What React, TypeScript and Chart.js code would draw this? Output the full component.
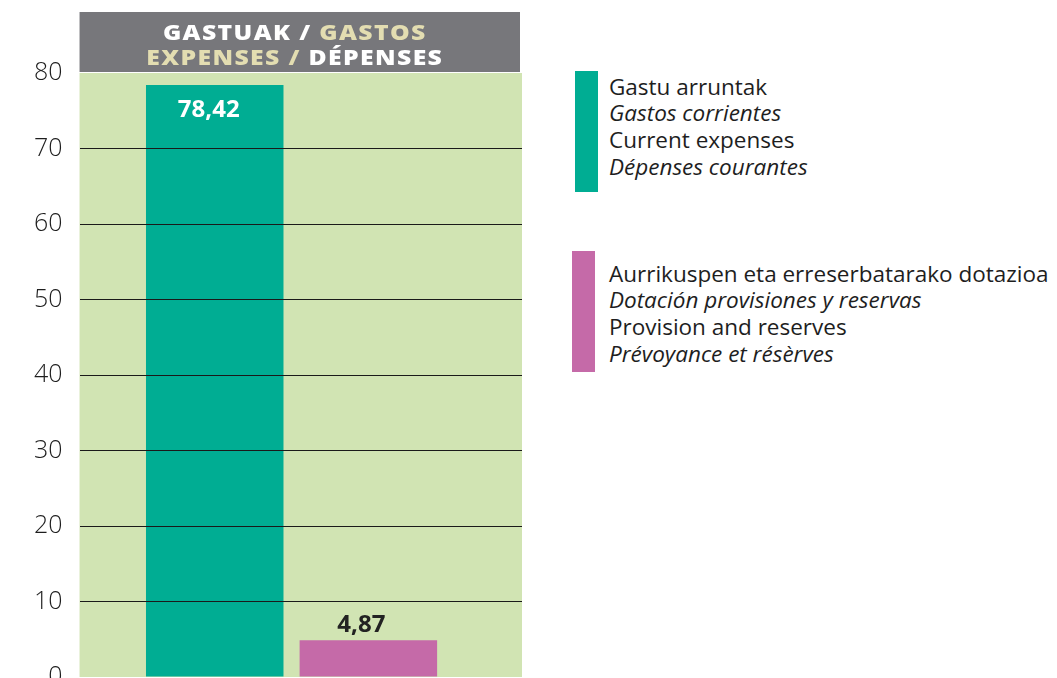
import React, { useEffect, useRef } from 'react';
import { Chart, registerables } from 'chart.js';

Chart.register(...registerables);

// ---- data ----
const categories = ['Gastu arruntak', 'Aurrikuspen eta erreserbatarako dotazioa'];
const categoryPositions = [1, 2];
const values = [78.42, 4.87];
const valueLabels = ['78,42', '4,87'];
const barColors = ['#00ad93', '#c56aa8'];
const yMin = 0;
const yMax = 80;
const yStep = 10;

const titleLine1 = [
  { text: 'GASTUAK', color: '#ffffff' },
  { text: ' / ', color: '#ffffff' },
  { text: 'GASTOS', color: '#e3ddb1' },
];
const titleLine2 = [
  { text: 'EXPENSES', color: '#e3ddb1' },
  { text: ' / ', color: '#e3ddb1' },
  { text: 'DÉPENSES', color: '#ffffff' },
];

const legendTeal = ['Gastu arruntak', 'Gastos corrientes', 'Current expenses', 'Dépenses courantes'];
const legendPink = [
  'Aurrikuspen eta erreserbatarako dotazioa',
  'Dotación provisiones y reservas',
  'Provision and reserves',
  'Prévoyance et résèrves',
];
const legendItalic = [false, true, false, true];

// ---- styles ----
const GREEN_BG = '#d1e4b3';
const HEADER_BG = '#77777b';
const TEXT_DARK = '#1e1e1e';
const TITLE_STRETCH = 1.15;

const bgPlugin = {
  id: 'bgHeader',
  beforeDraw(chart: any) {
    const { ctx, chartArea: a } = chart;
    ctx.save();
    ctx.fillStyle = GREEN_BG;
    ctx.fillRect(a.left, a.top, a.right - a.left, a.bottom - a.top);
    ctx.fillStyle = HEADER_BG;
    ctx.fillRect(a.left, a.top - 61, a.right - a.left - 2, 60);
    ctx.font = '800 21.5px "Open Sans", sans-serif';
    ctx.textBaseline = 'alphabetic';
    ctx.textAlign = 'left';
    try { (ctx as any).letterSpacing = '1.2px'; } catch (e) {}
    const cx = (a.left + a.right) / 2 - 6;
    const drawLine = (segs: { text: string; color: string }[], y: number) => {
      const widths = segs.map((s) => ctx.measureText(s.text).width * TITLE_STRETCH);
      const total = widths.reduce((p, q) => p + q, 0);
      let x = cx - total / 2;
      segs.forEach((s, i) => {
        ctx.save();
        ctx.translate(x, y);
        ctx.scale(TITLE_STRETCH, 1);
        ctx.fillStyle = s.color;
        ctx.fillText(s.text, 0, 0);
        ctx.restore();
        x += widths[i];
      });
    };
    drawLine(titleLine1, a.top - 33);
    drawLine(titleLine2, a.top - 8);
    ctx.restore();
  },
};

const labelPlugin = {
  id: 'valueLabels',
  afterDatasetsDraw(chart: any) {
    const { ctx } = chart;
    const meta = chart.getDatasetMeta(0);
    ctx.save();
    ctx.font = 'bold 24px "Open Sans", sans-serif';
    ctx.textAlign = 'center';
    ctx.textBaseline = 'alphabetic';
    meta.data.forEach((bar: any, i: number) => {
      const h = bar.base - bar.y;
      if (h > 60) {
        ctx.fillStyle = '#ffffff';
        ctx.fillText(valueLabels[i], bar.x - 6, bar.y + 32);
      } else {
        ctx.fillStyle = '#222222';
        ctx.fillText(valueLabels[i], bar.x - 7, bar.y - 8);
      }
    });
    ctx.restore();
  },
};

function LegendBlock({ color, lines, left, top, swLeft, swTop }: any) {
  return (
    <>
      <div
        style={{
          position: 'absolute',
          left: swLeft,
          top: swTop,
          width: 23,
          height: 121,
          background: color,
        }}
      />
      <div
        style={{
          position: 'absolute',
          left,
          top,
          fontFamily: '"Open Sans", sans-serif',
          fontSize: 22.5,
          lineHeight: '26.7px',
          color: TEXT_DARK,
          whiteSpace: 'nowrap',
        }}
      >
        {lines.map((l: string, i: number) => (
          <div key={i} style={{ fontStyle: legendItalic[i] ? 'italic' : 'normal' }}>
            {l}
          </div>
        ))}
      </div>
    </>
  );
}

export default function App() {
  const canvasRef = useRef<HTMLCanvasElement | null>(null);

  useEffect(() => {
    if (!canvasRef.current) return;
    const chart = new Chart(canvasRef.current, {
      type: 'bar',
      data: {
        datasets: [
          {
            label: 'Gastuak',
            data: categoryPositions.map((x, i) => ({ x, y: values[i] })) as any,
            backgroundColor: barColors,
            borderWidth: 0,
            barPercentage: 0.895,
            categoryPercentage: 1,
          },
        ],
      },
      options: {
        animation: false,
        responsive: true,
        maintainAspectRatio: false,
        layout: { padding: { left: 9, right: 16, top: 65, bottom: 0 } },
        plugins: {
          legend: { display: false },
          tooltip: { enabled: false },
        },
        scales: {
          x: {
            type: 'linear',
            min: 0.12,
            max: 3,
            offset: false,
            display: false,
            grid: { offset: false },
            ticks: { stepSize: 1, includeBounds: false },
          },
          y: {
            min: yMin,
            max: yMax,
            ticks: {
              stepSize: yStep,
              color: TEXT_DARK,
              font: { family: '"Open Sans", sans-serif', size: 25, weight: '300' },
              padding: 17,
            },
            border: { display: false },
            grid: {
              drawTicks: false,
              z: 1,
              lineWidth: 1,
              color: (c: any) =>
                c.tick && c.tick.value > yMin && c.tick.value < yMax ? '#1a1a1a' : 'rgba(0,0,0,0)',
            },
          },
        },
      } as any,
      plugins: [bgPlugin, labelPlugin],
    });
    return () => chart.destroy();
  }, []);

  return (
    <div style={{ position: 'fixed', left: 0, top: 0, width: '100vw', height: '100vh', overflow: 'hidden', background: '#fff' }}>
      <div style={{ position: 'absolute', left: 8, top: 8, width: 530, height: 701 }}>
        <canvas ref={canvasRef} aria-label={categories.join(', ')} />
      </div>
      <LegendBlock color={barColors[0]} lines={legendTeal} left={609} top={73.5} swLeft={575} swTop={71} />
      <LegendBlock color={barColors[1]} lines={legendPink} left={609} top={260.5} swLeft={572} swTop={251} />
    </div>
  );
}
